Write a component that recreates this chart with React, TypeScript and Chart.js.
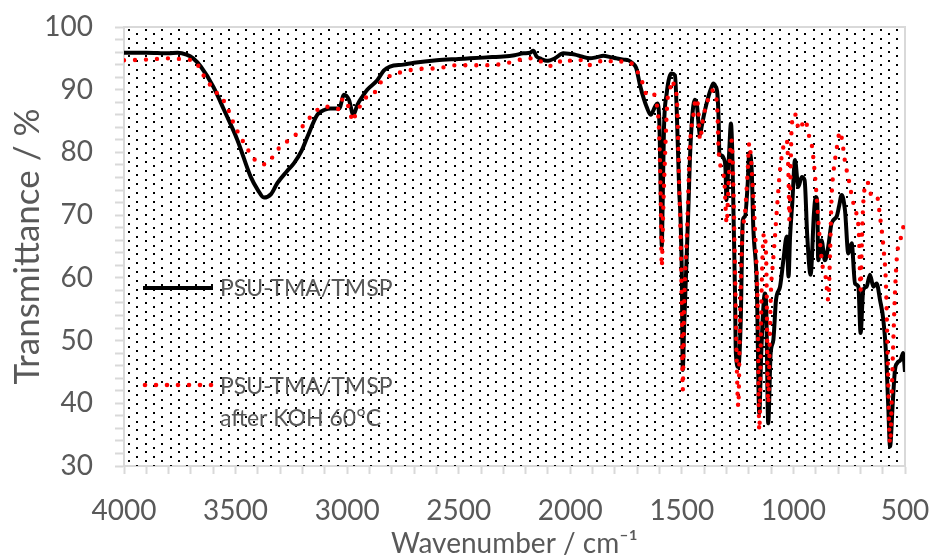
import React, { useEffect, useRef } from 'react';
import { Chart, registerables } from 'chart.js';

Chart.register(...registerables);

// ---------- data ----------
const seriesLabels = ['PSU-TMA/TMSP', 'PSU-TMA/TMSP\nafter KOH 60°C'];
const xTickValues = [4000, 3500, 3000, 2500, 2000, 1500, 1000, 500];
const yTickValues = [30, 40, 50, 60, 70, 80, 90, 100];

const blackWavenumber = [
  4000, 3900, 3800, 3760, 3720, 3690, 3656, 3600, 3552, 3492, 3432, 3400, 3373, 3340, 3313, 3270, 3238, 3205,
  3178, 3134, 3100, 3074, 3036, 3014, 2992, 2972, 2954, 2930, 2910, 2865, 2835, 2808, 2748, 2700, 2599, 2500,
  2449, 2350, 2300, 2250, 2210, 2180, 2166, 2151, 2130, 2106, 2069, 2031, 2000, 1979, 1950, 1912, 1880, 1852,
  1820, 1792, 1760, 1740, 1720, 1705, 1688, 1670, 1658, 1640, 1620, 1610, 1600, 1594, 1590, 1586, 1580, 1568,
  1556, 1546, 1531, 1523, 1512, 1506, 1500, 1496, 1490, 1479, 1470, 1464, 1455, 1442, 1432, 1424, 1419, 1412,
  1396, 1381, 1368, 1359, 1350, 1341, 1335, 1332, 1322, 1312, 1305, 1300, 1294, 1288, 1280, 1274, 1268, 1262,
  1258, 1247, 1236, 1227, 1217, 1205, 1198, 1187, 1180, 1164, 1153, 1145, 1138, 1128, 1122, 1113, 1102, 1090,
  1078, 1060, 1045, 1030, 1022, 1015, 1005, 993, 978, 963, 950, 938, 923, 908, 900, 893, 889, 874, 859, 844,
  829, 806, 795, 784, 769, 754, 739, 724, 709, 699, 687, 672, 657, 642, 627, 612, 597, 585, 575, 567, 555,
  545, 535, 520, 508, 500,
];
const blackTransmittance = [
  95.9, 95.9, 95.8, 95.9, 95.6, 95.0, 93.7, 90.5, 86.8, 82.0, 76.1, 74.0, 72.8, 73.4, 75.1, 77.0, 78.3, 80.2,
  82.5, 86.0, 86.8, 87.0, 87.0, 89.2, 88.4, 86.0, 87.6, 89.0, 90.0, 91.5, 93.1, 93.7, 94.0, 94.3, 94.7, 94.9,
  95.0, 95.2, 95.3, 95.5, 95.8, 95.9, 96.2, 95.3, 94.9, 94.6, 95.0, 95.8, 95.7, 95.6, 95.3, 95.0, 95.2, 95.4,
  95.2, 95.0, 94.8, 94.7, 94.2, 93.5, 90.8, 88.5, 87.3, 86.0, 87.3, 87.8, 84.0, 72.0, 65.0, 72.0, 84.0, 89.4,
  92.0, 92.6, 92.3, 86.8, 74.0, 69.5, 60.0, 45.3, 52.0, 62.8, 72.0, 78.8, 85.0, 88.4, 87.5, 84.0, 82.8, 84.0,
  86.8, 88.9, 90.3, 91.0, 90.6, 89.4, 85.0, 79.9, 79.5, 79.0, 77.7, 72.4, 76.0, 80.0, 84.6, 80.0, 69.2, 58.0,
  48.0, 45.8, 53.3, 69.2, 69.8, 75.0, 79.9, 77.2, 68.2, 58.6, 38.4, 47.0, 53.3, 57.5, 55.4, 36.8, 48.0, 50.1,
  56.5, 58.6, 62.8, 66.6, 60.2, 66.6, 72.0, 78.8, 74.5, 76.1, 75.6, 66.6, 60.5, 70.3, 72.9, 72.0, 62.8, 66.0, 62.8, 65.0,
  68.7, 69.8, 71.5, 73.2, 70.8, 63.9, 65.5, 59.1, 58.6, 51.2, 58.1, 58.6, 60.5, 58.6, 59.1, 56.5, 53.3, 48.0, 39.5, 33.1, 40.0,
  45.3, 46.4, 46.9, 48.0, 45.0,
];

const redWavenumber = [
  4000, 3900, 3800, 3720, 3679, 3656, 3604, 3544, 3507, 3462, 3410, 3368, 3340, 3305, 3231, 3171, 3104, 3060,
  3036, 3019, 3000, 2987, 2975, 2962, 2942, 2914, 2880, 2856, 2823, 2778, 2733, 2688, 2599, 2509, 2420, 2330,
  2240, 2203, 2166, 2136, 2103, 2061, 2031, 1994, 1960, 1924, 1882, 1840, 1797, 1755, 1714, 1691, 1673, 1658,
  1640, 1628, 1613, 1603, 1596, 1590, 1584, 1576, 1565, 1553, 1546, 1538, 1523, 1512, 1506, 1500, 1496, 1490,
  1476, 1464, 1449, 1437, 1426, 1419, 1404, 1389, 1374, 1359, 1350, 1340, 1336, 1321, 1310, 1299, 1292, 1285,
  1278, 1270, 1262, 1255, 1247, 1240, 1230, 1217, 1205, 1198, 1190, 1180, 1170, 1160, 1153, 1143, 1132, 1122,
  1113, 1105, 1100, 1095, 1086, 1072, 1060, 1045, 1030, 1022, 1018, 1012, 1008, 993, 985, 971, 960, 948, 929,
  919, 905, 896, 884, 870, 855, 844, 835, 829, 821, 809, 791, 780, 770, 749, 735, 718, 706, 699, 693, 687,
  669, 650, 627, 612, 597, 585, 578, 567, 555, 545, 535, 524, 511, 500,
];
const redTransmittance = [
  94.7, 94.8, 95.0, 94.8, 94.5, 93.0, 90.3, 87.7, 84.5, 81.5, 78.7, 78.1, 79.0, 80.7, 82.8, 85.4, 87.3, 87.2,
  86.9, 88.6, 87.8, 86.5, 84.9, 86.1, 87.4, 88.8, 89.4, 90.9, 91.9, 92.6, 93.0, 93.3, 93.4, 93.9, 93.9, 94.0,
  94.6, 95.0, 95.0, 94.6, 93.8, 94.0, 94.9, 94.6, 94.8, 93.9, 94.3, 94.8, 94.3, 94.6, 93.8, 92.3, 90.8, 89.2,
  89.0, 89.3, 87.8, 84.0, 75.0, 61.8, 70.0, 78.8, 88.1, 90.0, 91.5, 91.0, 88.9, 75.0, 67.0, 55.0, 42.1, 55.0,
  68.2, 80.9, 85.7, 88.6, 86.8, 82.0, 85.7, 87.6, 89.4, 89.9, 89.4, 86.0, 80.9, 77.2, 75.6, 68.7, 74.0, 79.0,
  82.0, 76.0, 62.0, 48.0, 39.5, 52.0, 66.0, 70.3, 77.0, 81.5, 79.0, 73.0, 66.0, 55.0, 35.7, 57.5, 67.1, 62.8,
  40.0, 52.0, 58.6, 61.0, 65.0, 71.9, 77.2, 80.9, 82.0, 76.0, 69.2, 78.0, 84.1, 86.2, 84.8, 83.6, 84.5, 85.2, 82.5,
  81.5, 77.0, 73.0, 67.1, 62.0, 60.0, 56.5, 65.0, 72.9, 76.7, 79.9, 83.3, 81.5, 78.8, 75.1, 72.4, 70.3, 66.6, 58.1, 66.0, 71.9,
  75.3, 73.2, 73.2, 69.8, 65.0, 58.6, 48.0, 33.6, 46.9, 57.5, 63.9, 65.5, 67.6, 69.2,
];

// ---------- styling ----------
const FONT = "Lato, 'Open Sans', sans-serif";
const TEXT_GREY = '#595959';
const AXIS_GREY = '#d9d9d9';

const decorPlugin = {
  id: 'plotDecor',
  beforeDatasetsDraw(chart: any) {
    const { ctx, chartArea: a } = chart;
    ctx.save();
    ctx.beginPath();
    ctx.rect(a.left, a.top, a.right - a.left, a.bottom - a.top);
    ctx.clip();
    ctx.fillStyle = '#000000';
    const dx = 16.7;
    const dy = 4.4;
    let row = 0;
    for (let y = a.top + 2; y < a.bottom - 1; y += dy, row++) {
      const off = row % 2 ? dx / 2 : 0;
      for (let x = a.left + 4 + off; x < a.right - 1; x += dx) {
        ctx.fillRect(Math.round(x), Math.round(y), 2, 2);
      }
    }
    ctx.restore();
    ctx.save();
    ctx.strokeStyle = AXIS_GREY;
    ctx.lineWidth = 2;
    ctx.beginPath();
    ctx.moveTo(a.left, a.top);
    ctx.lineTo(a.right, a.top);
    ctx.lineTo(a.right, a.bottom);
    ctx.stroke();
    ctx.restore();
  },
  afterDatasetsDraw(chart: any) {
    const { ctx, chartArea: a } = chart;
    const ds = chart.data.datasets;
    const x0 = a.left + 19;
    const x1 = a.left + 89;
    const tx = a.left + 96;
    ctx.save();
    ctx.font = `23px ${FONT}`;
    ctx.fillStyle = TEXT_GREY;
    ctx.textBaseline = 'middle';
    ctx.textAlign = 'left';
    const y1 = 288;
    ctx.strokeStyle = ds[0].borderColor;
    ctx.lineWidth = 4;
    ctx.beginPath();
    ctx.moveTo(x0, y1);
    ctx.lineTo(x1, y1);
    ctx.stroke();
    ctx.fillText(String(ds[0].label), tx, y1 + 1);
    const y2 = 385;
    ctx.fillStyle = ds[1].borderColor;
    for (let i = 0; i < 7; i++) {
      ctx.beginPath();
      ctx.arc(x0 + 2 + i * 11, y2, 2.3, 0, Math.PI * 2);
      ctx.fill();
    }
    ctx.fillStyle = TEXT_GREY;
    const lines = String(ds[1].label).split('\n');
    lines.forEach((ln, i) => ctx.fillText(ln, tx, y2 + 2 + i * 32));
    ctx.restore();
  },
};

export default function App() {
  const canvasRef = useRef<HTMLCanvasElement>(null);

  useEffect(() => {
    document.body.style.margin = '0';
    const canvas = canvasRef.current;
    if (!canvas) return;
    const tickFont = { family: FONT, size: 28 };
    const chart = new Chart(canvas, {
      type: 'line',
      data: {
        datasets: [
          {
            label: seriesLabels[0],
            data: blackWavenumber.map((w, i) => ({ x: w, y: blackTransmittance[i] })),
            borderColor: '#000000',
            borderWidth: 4,
            pointRadius: 0,
            cubicInterpolationMode: 'monotone',
            borderJoinStyle: 'round',
            fill: false,
            order: 2,
          },
          {
            label: seriesLabels[1],
            data: redWavenumber.map((w, i) => ({ x: w, y: redTransmittance[i] })),
            borderColor: '#ff0000',
            borderWidth: 4.4,
            borderDash: [0, 11],
            borderCapStyle: 'round',
            cubicInterpolationMode: 'monotone',
            pointRadius: 0,
            fill: false,
            order: 1,
          },
        ],
      },
      options: {
        animation: false,
        responsive: false,
        maintainAspectRatio: false,
        devicePixelRatio: 1,
        layout: { padding: { top: 27, right: 27, left: 0, bottom: 0 } },
        plugins: {
          legend: { display: false },
          tooltip: { enabled: false },
          title: { display: false },
        },
        scales: {
          x: {
            type: 'linear',
            reverse: true,
            min: 500,
            max: 4000,
            afterFit: (s: any) => {
              s.height = 94;
              s.paddingLeft = 0;
              s.paddingRight = 0;
            },
            ticks: {
              stepSize: 100,
              autoSkip: false,
              maxRotation: 0,
              minRotation: 0,
              padding: 20,
              color: TEXT_GREY,
              font: tickFont,
              callback: (v: any) => (xTickValues.includes(Number(v)) ? String(v) : ''),
            },
            grid: {
              drawOnChartArea: false,
              drawTicks: true,
              tickLength: 8,
              tickColor: AXIS_GREY,
              tickWidth: 2,
            },
            border: { display: true, color: AXIS_GREY, width: 2 },
            title: {
              display: true,
              text: 'Wavenumber / cm⁻¹',
              color: TEXT_GREY,
              font: { family: FONT, size: 28, lineHeight: 1 },
              padding: { top: 0, bottom: 2 },
            },
          },
          y: {
            type: 'linear',
            min: 30,
            max: 100,
            afterFit: (s: any) => {
              s.width = 124;
              s.paddingTop = 0;
              s.paddingBottom = 0;
            },
            ticks: {
              stepSize: 2,
              autoSkip: false,
              padding: 22,
              color: TEXT_GREY,
              font: tickFont,
              callback: (v: any) => (yTickValues.includes(Number(v)) ? String(v) : ''),
            },
            grid: {
              drawOnChartArea: false,
              drawTicks: true,
              tickLength: 9,
              tickColor: AXIS_GREY,
              tickWidth: 2,
            },
            border: { display: true, color: AXIS_GREY, width: 2 },
            title: {
              display: true,
              text: 'Transmittance / %',
              color: TEXT_GREY,
              font: { family: FONT, size: 35, lineHeight: 1 },
              padding: { top: 10, bottom: 0 },
            },
          },
        },
      },
      plugins: [decorPlugin],
    } as any);
    return () => chart.destroy();
  }, []);

  return (
    <div style={{ position: 'fixed', left: 0, top: 0, width: 932, height: 560, background: '#ffffff' }}>
      <canvas ref={canvasRef} width={932} height={560} style={{ width: 932, height: 560 }} />
    </div>
  );
}
